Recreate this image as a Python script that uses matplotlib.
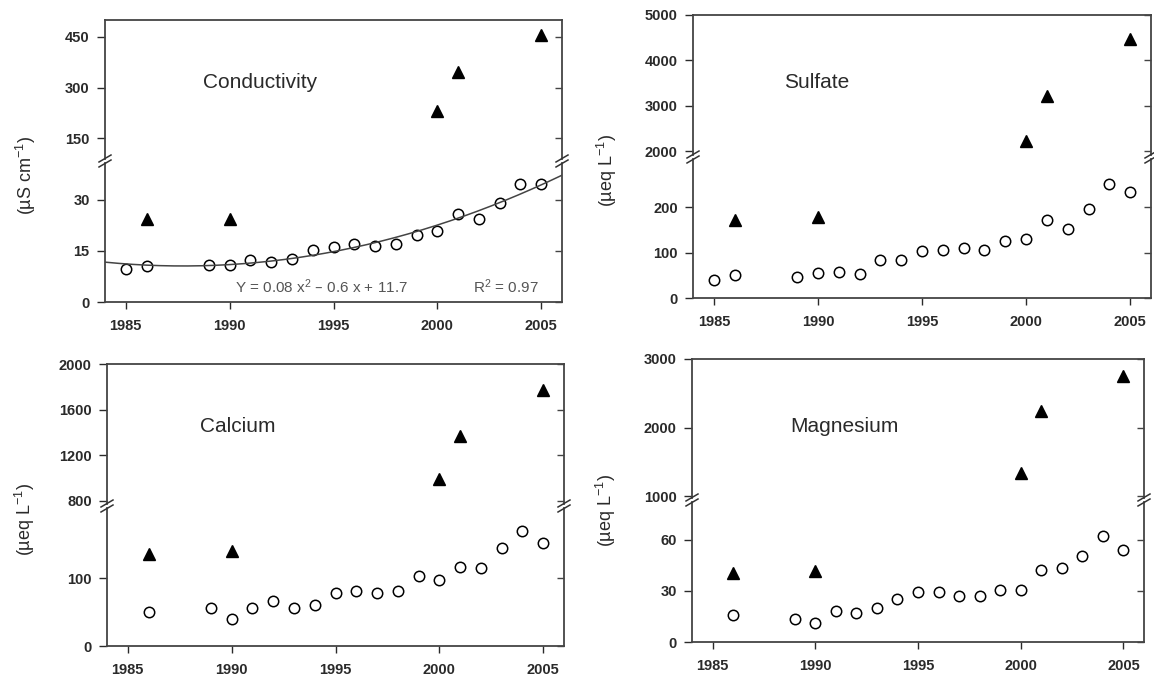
import numpy as np
import matplotlib.pyplot as plt
from matplotlib.lines import Line2D

plt.rcParams['font.family'] = ['Liberation Sans', 'DejaVu Sans']
plt.rcParams['mathtext.default'] = 'regular'

# ---- data ----
yrs_all = [1985, 1986, 1989, 1990, 1991, 1992, 1993, 1994, 1995, 1996,
           1997, 1998, 1999, 2000, 2001, 2002, 2003, 2004, 2005]
yrs_86 = yrs_all[1:]
tri_years = [1986, 1990, 2000, 2001, 2005]

cond_circ = [9.7, 10.5, 11.0, 11.0, 12.4, 11.7, 12.7, 15.3, 16.1, 17.1,
             16.5, 17.1, 19.7, 20.7, 25.7, 24.4, 29.2, 34.7, 34.7]
cond_tri = [24.5, 24.5, 232, 346, 456]
fit_coef = [0.08, -0.6, 11.7]   # Y = 0.08 x^2 - 0.6 x + 11.7, x = year - 1984

sulf_circ = [39, 50, 46, 55, 57, 53, 83, 83, 104, 106,
             110, 106, 126, 129, 171, 153, 196, 252, 233]
sulf_tri = [171, 178, 2217, 3217, 4478]

ca_circ = [50, 56, 40, 56, 67, 56, 60, 79, 82, 79,
           81.5, 103, 97.5, 117, 116, 144.5, 170, 152]
ca_tri = [136, 140, 991, 1365, 1774]

mg_circ = [15.9, 13.6, 11, 18, 17, 19.7, 25.2, 29, 29, 26.7,
           26.7, 30.4, 30.4, 42, 43.2, 50.3, 62.3, 53.8]
mg_tri = [40.6, 41.6, 1345, 2246, 2750]

x_ticks = [1985, 1990, 1995, 2000, 2005]

W, H = 1154, 681
fig = plt.figure(figsize=(W / 100, H / 100), dpi=100)
INK = '#2a2a2a'


def rect(left, right, top, bottom):
    return [left / W, 1 - bottom / H, (right - left) / W, (bottom - top) / H]


def style(ax, ticks, lims):
    ax.set_ylim(*lims)
    ax.set_xlim(1984, 2006)
    ax.set_yticks(ticks)
    ax.tick_params(axis='y', direction='out', length=5.5, width=1, colors=INK,
                   labelsize=10.5, pad=5.5)
    for t in ax.get_yticklabels():
        t.set_fontweight('bold')
    for s in ax.spines.values():
        s.set_color('#444444')
        s.set_linewidth(1.3)
    sec = ax.secondary_yaxis('right')
    sec.set_yticks(ticks)
    sec.tick_params(direction='in', length=5, width=1, colors='#444444',
                    labelright=False)
    sec.spines['right'].set_visible(False)


def brk_mark(x, y):
    for dy in (-2.5, 2.5):
        fig.add_artist(Line2D([(x - 6) / W, (x + 6) / W],
                              [1 - (y + dy + 3.5) / H, 1 - (y + dy - 3.5) / H],
                              color='#333333', lw=1.1))


def panel(px, lo_lim, hi_lim, lo_ticks, hi_ticks, cx, cy, tx, ty,
          title, title_xy, ylab, ylab_xy):
    left, right, top, brk, bottom = px
    g = 2
    lo = fig.add_axes(rect(left, right, brk + g, bottom))
    hi = fig.add_axes(rect(left, right, top, brk - g))
    style(lo, lo_ticks, lo_lim)
    style(hi, hi_ticks, hi_lim)
    lo.spines['top'].set_visible(False)
    hi.spines['bottom'].set_visible(False)
    hi.set_xticks([])
    lo.set_xticks(x_ticks)
    lo.tick_params(axis='x', direction='out', length=5, width=1, colors=INK,
                   labelsize=10.5, pad=7)
    for t in lo.get_xticklabels():
        t.set_fontweight('bold')

    cx, cy = np.asarray(cx), np.asarray(cy)
    tx, ty = np.asarray(tx), np.asarray(ty)
    for ax, m in ((lo, cy <= lo_lim[1]), (hi, cy > lo_lim[1])):
        ax.plot(cx[m], cy[m], 'o', ms=7.5, mfc='white', mec='black', mew=1.1)
    for ax, m in ((lo, ty <= lo_lim[1]), (hi, ty > lo_lim[1])):
        ax.plot(tx[m], ty[m], '^', ms=9, color='black')

    brk_mark(left, brk)
    brk_mark(right, brk)
    fig.text(title_xy[0] / W, 1 - title_xy[1] / H, title, ha='center',
             va='center', fontsize=15, color=INK)
    fig.text(ylab_xy[0] / W, 1 - ylab_xy[1] / H, ylab, rotation=90,
             ha='center', va='center', fontsize=13, color=INK)
    return lo, hi


lo1, hi1 = panel((105, 562, 20, 161, 302), (0, 40.8), (89, 500),
                 [0, 15, 30], [150, 300, 450], yrs_all, cond_circ,
                 tri_years, cond_tri, 'Conductivity', (260, 82),
                 r'(µS cm$^{-1}$)', (26, 175))
xf = np.linspace(1984, 2006, 200)
lo1.plot(xf, np.polyval(fit_coef, xf - 1984), color='#444444', lw=1.1)
fig.text(235 / W, 1 - 287 / H, r'Y = 0.08 x$^2$ – 0.6 x + 11.7',
         fontsize=11, color='#555555', va='center', ha='left')
fig.text(473 / W, 1 - 287 / H, r'R$^2$ = 0.97',
         fontsize=11, color='#555555', va='center', ha='left')

panel((693, 1151, 15, 157, 298), (0, 306), (1915, 5000),
      [0, 100, 200], [2000, 3000, 4000, 5000], yrs_all, sulf_circ,
      tri_years, sulf_tri, 'Sulfate', (817, 82), r'(µeq L$^{-1}$)', (607, 170))

panel((107, 564, 364, 506, 646), (0, 204), (770, 2000),
      [0, 100], [800, 1200, 1600, 2000], yrs_86, ca_circ,
      tri_years, ca_tri, 'Calcium', (238, 426), r'(µeq L$^{-1}$)', (25, 519))

panel((692, 1144, 359, 500, 642), (0, 82), (976, 3000),
      [0, 30, 60], [1000, 2000, 3000], yrs_86, mg_circ,
      tri_years, mg_tri, 'Magnesium', (844, 426), r'(µeq L$^{-1}$)', (606, 510))

fig.savefig('out.png', dpi=100)
